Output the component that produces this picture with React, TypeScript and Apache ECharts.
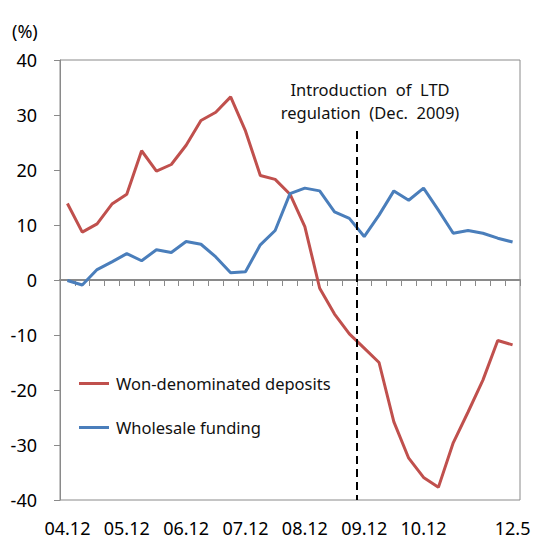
import React, { useEffect, useRef } from "react";
import * as echarts from "echarts";

const categories = [
  "04.12", "05.3", "05.6", "05.9", "05.12", "06.3", "06.6", "06.9", "06.12",
  "07.3", "07.6", "07.9", "07.12", "08.3", "08.6", "08.9", "08.12",
  "09.3", "09.6", "09.9", "09.12", "10.3", "10.6", "10.9", "10.12",
  "11.3", "11.6", "11.9", "11.12", "12.3", "12.5",
];
const shownLabels = ["04.12", "05.12", "06.12", "07.12", "08.12", "09.12", "10.12", "12.5"];

const wonDeposits = [
  13.9, 8.7, 10.2, 13.8, 15.6, 23.5, 19.8, 21.0, 24.5, 29.0, 30.5, 33.3, 27.1,
  19.0, 18.3, 15.6, 9.7, -1.5, -6.2, -9.8, -12.4, -15.0, -25.8, -32.4, -35.9,
  -37.7, -29.6, -24.0, -18.2, -11.0, -11.8,
];
const wholesaleFunding = [
  -0.1, -0.9, 1.9, 3.3, 4.8, 3.5, 5.5, 5.0, 7.0, 6.5, 4.2, 1.3, 1.5, 6.4, 9.0,
  15.7, 16.7, 16.2, 12.4, 11.2, 7.9, 11.8, 16.2, 14.5, 16.7, 12.7, 8.5, 9.0,
  8.5, 7.6, 6.9,
];
// LTD regulation marker: boundary before category index 20 (09.12)
const ltdBoundary = 20;
const ltdLineTop = 27.1;
const yMin = -40;
const yMax = 40;
const yInterval = 10;

const FONT = "'Noto Sans', 'Open Sans', sans-serif";

export default function App() {
  const ref = useRef<HTMLDivElement>(null);
  useEffect(() => {
    if (!ref.current) return;
    const chart = echarts.init(ref.current, null, { renderer: "svg" });
    const gray = "#8a8a8a";
    chart.setOption({
      animation: false,
      backgroundColor: "#fff",
      textStyle: { fontFamily: FONT },
      grid: {
        left: 60,
        top: 60,
        width: 460,
        height: 440,
        show: true,
        borderColor: gray,
        borderWidth: 1,
        containLabel: false,
      },
      legend: {
        data: ["Won-denominated deposits", "Wholesale funding"],
        orient: "vertical",
        left: 74,
        top: 370,
        icon: "rect",
        itemWidth: 30,
        itemHeight: 3,
        itemGap: 27,
        textStyle: { fontSize: 16.5, color: "#111", fontFamily: FONT, padding: [0, 0, 0, 2] },
      },
      xAxis: [
        {
          type: "category",
          data: categories,
          boundaryGap: true,
          position: "bottom",
          axisLine: { onZero: true, lineStyle: { color: gray, width: 2 } },
          axisTick: { show: true, interval: 0, length: 6, inside: false, lineStyle: { color: gray, width: 1 } },
          axisLabel: { show: false },
          splitLine: { show: false },
        },
        {
          type: "category",
          data: categories,
          boundaryGap: true,
          position: "bottom",
          axisLine: { show: false, onZero: false },
          axisTick: { show: false },
          axisLabel: {
            show: true,
            interval: (_i: number, v: string) => shownLabels.includes(v),
            fontSize: 18,
            color: "#000",
            margin: 19,
            fontFamily: FONT,
          },
          splitLine: { show: false },
        },
        {
          type: "value",
          min: 0,
          max: categories.length,
          show: false,
          position: "top",
        },
      ],
      yAxis: {
        type: "value",
        min: yMin,
        max: yMax,
        interval: yInterval,
        axisLine: { show: true, lineStyle: { color: gray } },
        axisTick: { show: true, length: 6, lineStyle: { color: gray } },
        axisLabel: { fontSize: 18, color: "#000", margin: 23, fontFamily: FONT },
        splitLine: { show: false },
      },
      series: [
        {
          name: "Won-denominated deposits",
          type: "line",
          xAxisIndex: 0,
          data: wonDeposits,
          symbol: "none",
          lineStyle: { color: "#C0504D", width: 3 },
          itemStyle: { color: "#C0504D" },
          z: 3,
        },
        {
          name: "Wholesale funding",
          type: "line",
          xAxisIndex: 0,
          data: wholesaleFunding,
          symbol: "none",
          lineStyle: { color: "#4A7EBB", width: 3 },
          itemStyle: { color: "#4A7EBB" },
          z: 4,
        },
        {
          name: "ltd",
          type: "line",
          xAxisIndex: 2,
          data: [],
          z: 5,
          markLine: {
            silent: true,
            symbol: ["none", "none"],
            label: { show: false },
            lineStyle: { color: "#000", width: 2, type: [8, 5] },
            data: [[{ coord: [ltdBoundary, ltdLineTop] }, { coord: [ltdBoundary, yMin] }]],
          },
        },
      ],
      graphic: [
        {
          type: "text",
          left: 12,
          top: 22,
          style: { text: "(%)", fontSize: 18, fill: "#000", fontFamily: FONT },
        },
        {
          type: "text",
          x: 370,
          y: 89.5,
          style: {
            text: "Introduction  of  LTD",
            fontSize: 16.5,
            fill: "#111",
            align: "center",
            verticalAlign: "middle",
            fontFamily: FONT,
          },
        },
        {
          type: "text",
          x: 370,
          y: 112.5,
          style: {
            text: "regulation  (Dec.  2009)",
            fontSize: 16.5,
            fill: "#111",
            align: "center",
            verticalAlign: "middle",
            fontFamily: FONT,
          },
        },
      ],
    });
    return () => chart.dispose();
  }, []);
  return (
    <div
      ref={ref}
      style={{ position: "fixed", left: 0, top: 0, width: 534, height: 540 }}
    />
  );
}
